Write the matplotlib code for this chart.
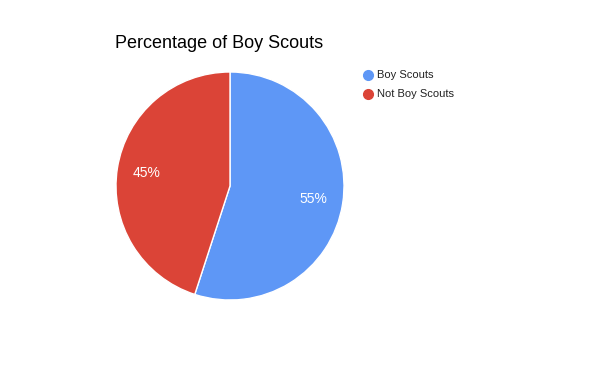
import matplotlib
matplotlib.use('Agg')
import matplotlib.pyplot as plt
from matplotlib.lines import Line2D

labels = ['Boy Scouts', 'Not Boy Scouts']
values = [55, 45]
colors = ['#5E97F6', '#DB4437']

plt.rcParams['font.family'] = ['Liberation Sans', 'DejaVu Sans']

fig = plt.figure(figsize=(6, 3.71), dpi=100)
W, H = 600, 371

# pie centre (230, 186) px, radius 114 px
cx, cy, r = 230, 186, 114
ax = fig.add_axes([(cx - r) / W, (H - cy - r) / H, 2 * r / W, 2 * r / H])
wedges, texts, autotexts = ax.pie(
    values, colors=colors, startangle=90, counterclock=False,
    autopct='%1.0f%%', pctdistance=0.74,
    wedgeprops={'edgecolor': 'white', 'linewidth': 1},
    textprops={'color': 'white', 'fontsize': 10})
ax.set_xlim(-1, 1)
ax.set_ylim(-1, 1)
ax.set_aspect('equal')

fig.text(115 / W, 1 - 43 / H, 'Percentage of Boy Scouts', fontsize=13,
         color='black', ha='left', va='center')

for i, (lab, col) in enumerate(zip(labels, colors)):
    y = 1 - (75 + 19 * i) / H
    fig.add_artist(Line2D([368 / W], [y], marker='o', markersize=7,
                          color=col, transform=fig.transFigure))
    fig.text(377 / W, y, lab, fontsize=8, color='#222222',
             ha='left', va='center')

plt.savefig('out.png', dpi=100)
